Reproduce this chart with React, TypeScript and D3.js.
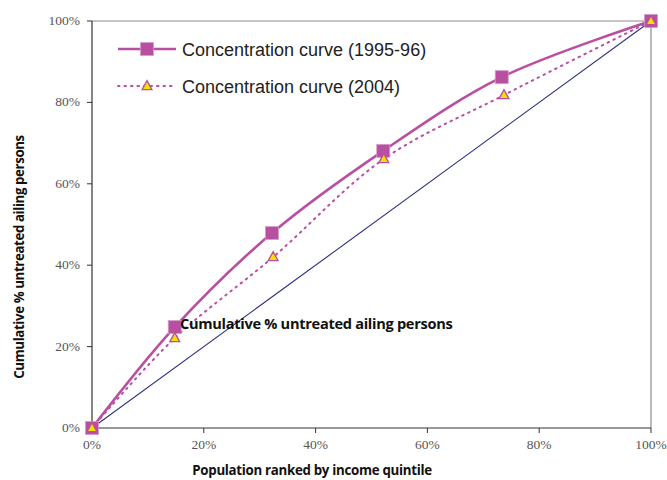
import React from "react";
import * as d3 from "d3";

const xShares = [0, 0.148, 0.322, 0.521, 0.733, 1];
const curve1995 = [0, 0.248, 0.479, 0.681, 0.862, 1];
const xShares2004 = [0, 0.148, 0.324, 0.522, 0.737, 1];
const curve2004 = [0, 0.221, 0.42, 0.661, 0.818, 1];
const equality = [0, 1];
const tickValues = [0, 0.2, 0.4, 0.6, 0.8, 1];
const legendLabels = ["Concentration curve (1995-96)", "Concentration curve (2004)"];

const W = 667, H = 480;
const M = { left: 92, right: 651, top: 21, bottom: 428 };
const MAG = "#B94FA1";
const NAVY = "#2B2F7F";

export default function App() {
  const x = d3.scaleLinear().domain([0, 1]).range([M.left, M.right]);
  const y = d3.scaleLinear().domain([0, 1]).range([M.bottom, M.top]);
  const fmt = d3.format(".0%");
  const line = d3.line<[number, number]>().x(d => x(d[0])).y(d => y(d[1])).curve(d3.curveCatmullRom.alpha(0.5));
  const p1: [number, number][] = xShares.map((v, i) => [v, curve1995[i]]);
  const p2: [number, number][] = xShares2004.map((v, i) => [v, curve2004[i]]);
  const diag = d3.line<number>().x(d => x(d)).y(d => y(d))(equality) || "";
  const tri = (cx: number, cy: number, s: number) =>
    `M${cx},${cy - s * 0.6}L${cx + s * 0.55},${cy + s * 0.4}L${cx - s * 0.55},${cy + s * 0.4}Z`;
  const serif = "'Liberation Serif', 'DejaVu Serif', serif";
  const sans = "'Liberation Sans', Arial, sans-serif";
  const bold = "'Open Sans', 'Lato', sans-serif";
  return (
    <svg width={W} height={H} style={{ position: "absolute", left: 0, top: 0, background: "#fff" }}>
      {/* frame */}
      <line x1={M.left} x2={M.right} y1={M.top} y2={M.top} stroke="#8c8c8c" strokeWidth={1.2} />
      <line x1={M.right} x2={M.right} y1={M.top} y2={M.bottom} stroke="#8c8c8c" strokeWidth={1.2} />
      <line x1={M.left} x2={M.left} y1={M.top} y2={M.bottom} stroke="#333" strokeWidth={1.2} />
      <line x1={M.left} x2={M.right} y1={M.bottom} y2={M.bottom} stroke="#333" strokeWidth={1.2} />
      {tickValues.map(t => (
        <g key={"y" + t}>
          <line x1={M.left - 5} x2={M.left} y1={y(t)} y2={y(t)} stroke="#333" strokeWidth={1} />
          <text x={M.left - 12} y={y(t) + 4} textAnchor="end" fontFamily={serif} fontSize={13.5} fill="#555">{fmt(t)}</text>
        </g>
      ))}
      {tickValues.map(t => (
        <g key={"x" + t}>
          <line x1={x(t)} x2={x(t)} y1={M.bottom} y2={M.bottom + 5} stroke="#333" strokeWidth={1} />
          <text x={x(t)} y={M.bottom + 21} textAnchor="middle" fontFamily={serif} fontSize={13.5} fill="#555">{fmt(t)}</text>
        </g>
      ))}
      <path d={diag} stroke={NAVY} strokeWidth={1.1} fill="none" />
      <path d={line(p2) || ""} stroke={MAG} strokeWidth={2} strokeDasharray="1.5,5" strokeLinecap="round" fill="none" />
      <path d={line(p1) || ""} stroke={MAG} strokeWidth={2.6} fill="none" />
      {p1.map((d, i) => (
        <rect key={"s" + i} x={x(d[0]) - 6.5} y={y(d[1]) - 6.5} width={13} height={13} fill={MAG} stroke="#d59ccb" strokeWidth={0.8} />
      ))}
      {p2.map((d, i) => (
        <path key={"t" + i} d={tri(x(d[0]), y(d[1]), 9)} fill="#F2E000" stroke={MAG} strokeWidth={1.3} />
      ))}
      {/* legend */}
      <line x1={118} x2={176} y1={49} y2={49} stroke={MAG} strokeWidth={2.6} />
      <rect x={140.5} y={42.5} width={13} height={13} fill={MAG} stroke="#d59ccb" strokeWidth={0.8} />
      <text x={182} y={55.5} fontFamily={sans} fontSize={18} fill="#222">{legendLabels[0]}</text>
      <line x1={118} x2={176} y1={86} y2={86} stroke={MAG} strokeWidth={2} strokeDasharray="1.5,5" strokeLinecap="round" />
      <path d={tri(147, 86, 9)} fill="#F2E000" stroke={MAG} strokeWidth={1.3} />
      <text x={182} y={92.5} fontFamily={sans} fontSize={18} fill="#222">{legendLabels[1]}</text>
      {/* annotation */}
      <text x={180} y={329} fontFamily={bold} fontWeight="bold" fontSize={14.6} fill="#111" letterSpacing={-0.3}>Cumulative % untreated ailing persons</text>
      {/* axis titles */}
      <text x={312} y={475} textAnchor="middle" fontFamily={bold} fontWeight="bold" fontSize={13.3} fill="#111" letterSpacing={-0.3}>Population ranked by income quintile</text>
      <text transform={`translate(24,257) rotate(-90)`} textAnchor="middle" fontFamily={bold} fontWeight="bold" fontSize={13.3} fill="#111" letterSpacing={-0.4}>Cumulative % untreated ailing persons</text>
    </svg>
  );
}
